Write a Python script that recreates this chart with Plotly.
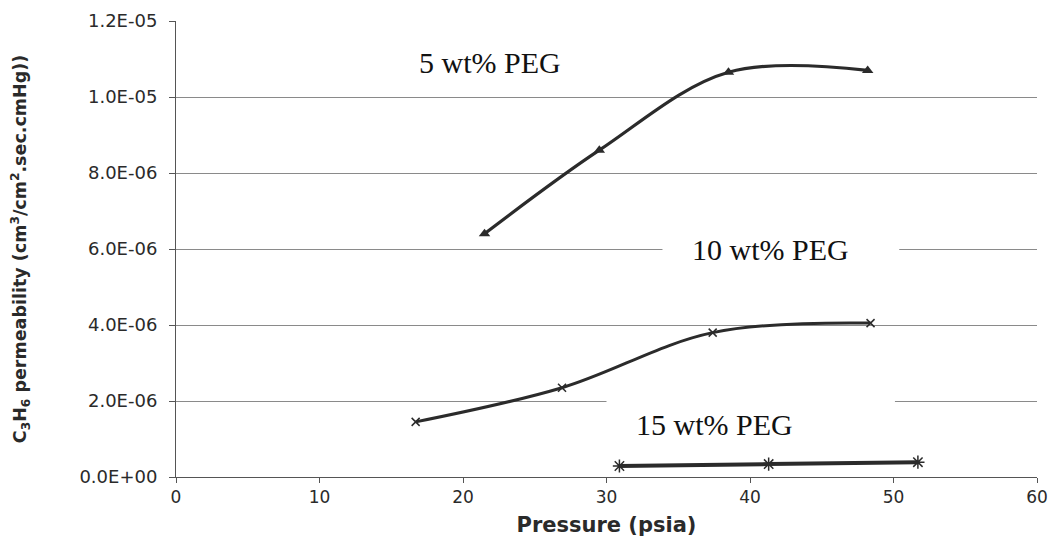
import plotly.graph_objects as go

# ---- data ----
peg5_p = [21.5, 29.5, 38.5, 48.2]
peg5_perm = [6.4e-6, 8.6e-6, 10.65e-6, 10.7e-6]

peg10_p = [16.7, 26.9, 37.4, 48.4]
peg10_perm = [1.45e-6, 2.35e-6, 3.8e-6, 4.05e-6]

peg15_p = [30.9, 41.3, 51.7]
peg15_perm = [0.29e-6, 0.34e-6, 0.39e-6]

x_ticks = [0, 10, 20, 30, 40, 50, 60]
y_ticks = [0, 2e-6, 4e-6, 6e-6, 8e-6, 1.0e-5, 1.2e-5]
y_tick_labels = ["0.0E+00", "2.0E-06", "4.0E-06", "6.0E-06", "8.0E-06", "1.0E-05", "1.2E-05"]

series_labels = ["5 wt% PEG", "10 wt% PEG", "15 wt% PEG"]

LINE = "#2b2b2b"
SANS = "DejaVu Sans"
SERIF = "Liberation Serif"

fig = go.Figure()

fig.add_trace(go.Scatter(
    x=peg5_p, y=peg5_perm, mode="lines+markers", name=series_labels[0],
    line=dict(color=LINE, width=3.2, shape="spline", smoothing=1),
    marker=dict(symbol="triangle-up", size=10, color=LINE),
))
fig.add_trace(go.Scatter(
    x=peg10_p, y=peg10_perm, mode="lines+markers", name=series_labels[1],
    line=dict(color=LINE, width=3, shape="spline", smoothing=1),
    marker=dict(symbol="x-thin-open", size=8, color=LINE, line=dict(width=1.5, color=LINE)),
))
fig.add_trace(go.Scatter(
    x=peg15_p, y=peg15_perm, mode="lines+markers", name=series_labels[2],
    line=dict(color=LINE, width=4, shape="spline", smoothing=1),
    marker=dict(symbol="asterisk-open", size=11, color=LINE, line=dict(width=1.5, color=LINE)),
))

# white text-box backgrounds that cut the gridlines, as in the reference
fig.add_shape(type="rect", xref="x", yref="y", x0=33.9, x1=50.4, y0=5.5e-6, y1=6.5e-6,
              fillcolor="white", line=dict(width=0), layer="above")
fig.add_shape(type="rect", xref="x", yref="y", x0=30.0, x1=50.1, y0=1.2e-6, y1=2.15e-6,
              fillcolor="white", line=dict(width=0), layer="above")

label_pos = [(21.9, 10.92e-6), (41.4, 6.0e-6), (37.5, 1.37e-6)]
for txt, (lx, ly) in zip(series_labels, label_pos):
    fig.add_annotation(x=lx, y=ly, xref="x", yref="y", text=txt, showarrow=False,
                       xanchor="center", yanchor="middle",
                       font=dict(family=SERIF, size=30, color="#111111"))

# page body has an 8px margin: size the figure to fit the 1057x558 window
fig.update_layout(
    width=1041, height=542,
    margin=dict(l=168, r=12, t=13, b=73),
    paper_bgcolor="white", plot_bgcolor="white",
    showlegend=False,
    font=dict(family=SANS, size=15, color="#2a2a2a"),
)

fig.update_xaxes(
    range=[0, 60], tickvals=x_ticks, ticks="outside", ticklen=5, tickcolor="#555",
    showline=True, linecolor="#555", linewidth=1, showgrid=False, zeroline=False,
    automargin=False,
    tickfont=dict(family=SANS, size=17, color="#2a2a2a"),
    title=dict(text="<b>Pressure (psia)</b>", font=dict(family=SANS, size=21, color="#2a2a2a"), standoff=10),
)
fig.update_yaxes(
    range=[0, 1.2e-5], tickvals=y_ticks, ticktext=y_tick_labels, ticks="outside",
    ticklen=6, tickcolor="#555", showline=True, linecolor="#555", linewidth=1,
    showgrid=True, gridcolor="#8a8a8a", gridwidth=1, zeroline=False,
    automargin=False,
    tickfont=dict(family=SANS, size=18, color="#2a2a2a"),
    ticklabelstandoff=8,
    title=dict(text="<b>C<sub>3</sub>H<sub>6</sub> permeability (cm<sup>3</sup>/cm<sup>2</sup>.sec.cmHg))</b>",
               font=dict(family=SANS, size=17.5, color="#2a2a2a"), standoff=48),
)

fig.write_html("out.html")
